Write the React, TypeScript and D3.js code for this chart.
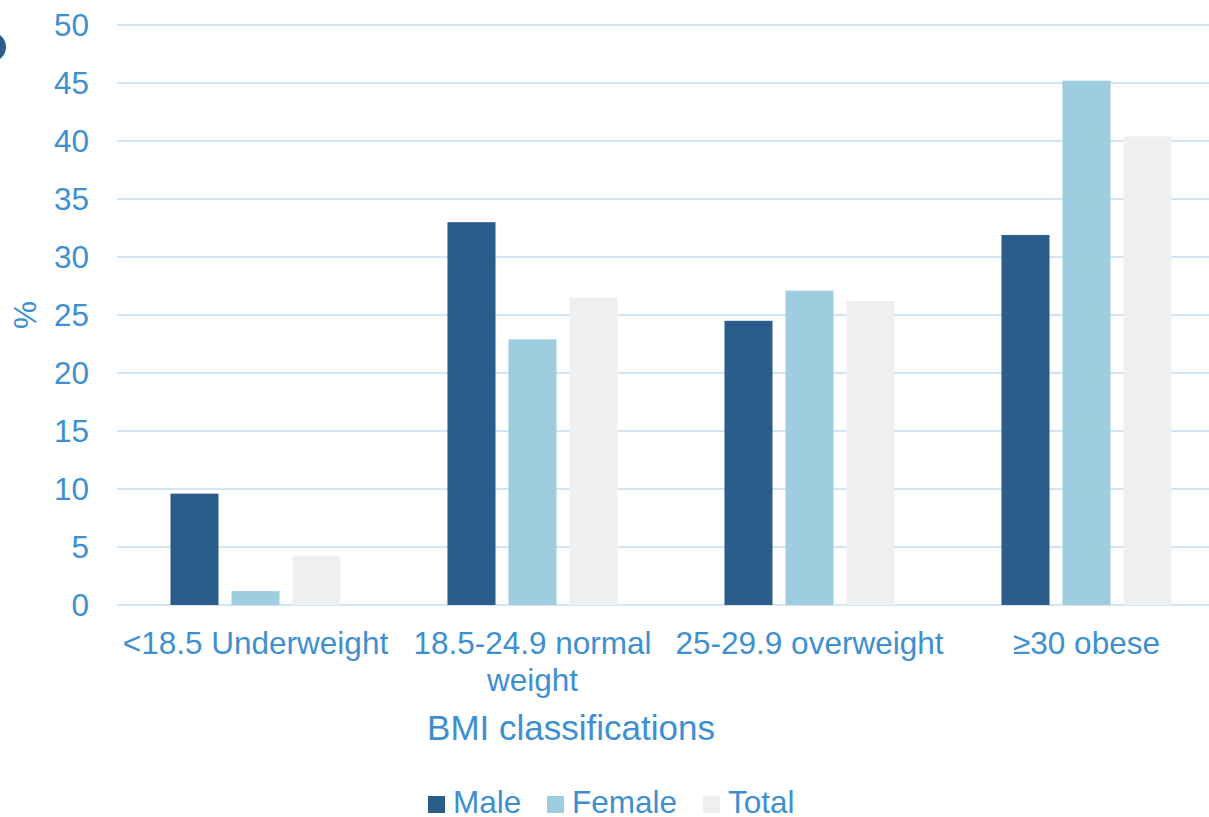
import React from "react";
import * as d3 from "d3";

const categories = ["<18.5 Underweight", "18.5-24.9 normal|weight", "25-29.9 overweight", "≥30 obese"];
const seriesNames = ["Male", "Female", "Total"];
const maleValues = [9.6, 33.0, 24.5, 31.9];
const femaleValues = [1.2, 22.9, 27.1, 45.2];
const totalValues = [4.2, 26.5, 26.2, 40.4];
const yTicks = [0, 5, 10, 15, 20, 25, 30, 35, 40, 45, 50];
const colors = ["#2b5d8a", "#9ecde0", "#efefef"];

const W = 1209, H = 817;
const TEXT = "#3d8fd1";
const FONT = "'Liberation Sans', Arial, sans-serif";

export default function App() {
  const series = [maleValues, femaleValues, totalValues];
  const y = d3.scaleLinear().domain([0, 50]).range([605, 25]);
  const x0 = d3.scaleBand<number>().domain(categories.map((_, i) => i)).range([117, 1225]).paddingInner(0.386).paddingOuter(0.193);
  const x1 = d3.scaleBand<number>().domain([0, 1, 2]).range([0, x0.bandwidth()]).paddingInner(0.213).paddingOuter(0);
  const legendX = [428, 547, 703];
  return (
    <svg width={W} height={H} style={{ position: "absolute", left: 0, top: 0, background: "#fff" }} fontFamily={FONT}>
      <circle cx={-9} cy={47} r={15} fill="#2b5d8a" />
      {yTicks.map((t) => (
        <g key={t}>
          <line x1={117} x2={1209} y1={y(t)} y2={y(t)} stroke="#d2e5f4" strokeWidth={2} />
          <text x={89} y={y(t)} dy="0.35em" textAnchor="end" fontSize={31.5} fill={TEXT}>{t}</text>
        </g>
      ))}
      <text transform="translate(25,315) rotate(-90)" textAnchor="middle" dy="0.35em" fontSize={31.5} fill={TEXT}>%</text>
      {categories.map((c, i) => (
        <g key={c} transform={`translate(${x0(i)},0)`}>
          {series.map((s, j) => (
            <rect key={j} x={x1(j)} y={y(s[i])} width={x1.bandwidth()} height={y(0) - y(s[i])} fill={colors[j]} />
          ))}
        </g>
      ))}
      {categories.map((c, i) => {
        const lines = c.split("|");
        const cx = (x0(i) as number) + x0.bandwidth() / 2;
        return (
          <text key={c} x={cx} y={654} textAnchor="middle" fontSize={31.5} fill={TEXT}>
            {lines.map((l, k) => (
              <tspan key={k} x={cx} dy={k === 0 ? 0 : 37}>{l}</tspan>
            ))}
          </text>
        );
      })}
      <text x={571} y={740} textAnchor="middle" fontSize={35} fill={TEXT}>BMI classifications</text>
      {seriesNames.map((n, j) => (
        <g key={n}>
          <rect x={legendX[j]} y={796} width={17} height={17} fill={colors[j]} />
          <text x={legendX[j] + 25} y={813} fontSize={31.5} fill={TEXT}>{n}</text>
        </g>
      ))}
    </svg>
  );
}
